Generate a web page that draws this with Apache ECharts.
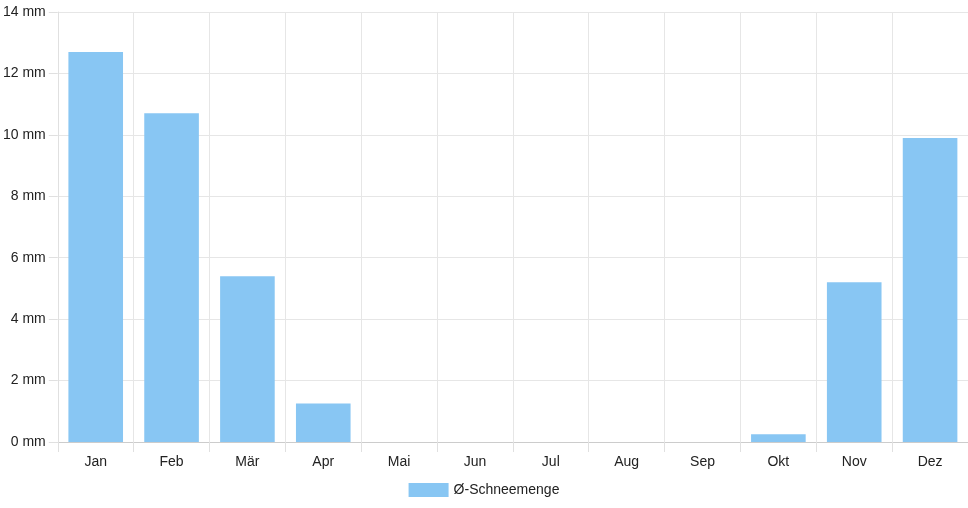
<!DOCTYPE html>
<html>
<head>
<meta charset="utf-8">
<script src="https://cdn.jsdelivr.net/npm/echarts@6/dist/echarts.min.js"></script>
<style>
  html, body { margin: 0; padding: 0; background: #fff; }
  #chart { width: 968px; height: 508px; }
</style>
</head>
<body>
<div id="chart"></div>
<script>
// monthly values
const months = ['Jan', 'Feb', 'Mär', 'Apr', 'Mai', 'Jun', 'Jul', 'Aug', 'Sep', 'Okt', 'Nov', 'Dez'];
const snow = [12.7, 10.7, 5.4, 1.25, 0, 0, 0, 0, 0, 0.25, 5.2, 9.9];
const seriesName = 'Ø-Schneemenge';

const chart = echarts.init(document.getElementById('chart'));
const font = 'Liberation Sans, Arial, sans-serif';

chart.setOption({
  animation: false,
  textStyle: { fontFamily: font },
  legend: {
    bottom: 6,
    left: 'center',
    itemWidth: 40,
    itemHeight: 14,
    itemGap: 10,
    icon: 'rect',
    textStyle: { fontSize: 14, color: '#222', fontFamily: font },
    data: [seriesName]
  },
  grid: { left: 56.5, right: 0, top: 12, bottom: 66, containLabel: false },
  xAxis: {
    type: 'category',
    data: months,
    axisLine: { show: true, lineStyle: { color: '#ccc' } },
    axisTick: { show: true, length: 10, lineStyle: { color: '#e0e0e0' } },
    splitLine: { show: true, lineStyle: { color: '#e6e6e6' } },
    axisLabel: { fontSize: 14, color: '#222', margin: 13, fontFamily: font }
  },
  yAxis: {
    type: 'value',
    min: 0,
    max: 14,
    interval: 2,
    axisLine: { show: true, lineStyle: { color: '#e0e0e0' } },
    axisTick: { show: true, length: 9, lineStyle: { color: '#e0e0e0' } },
    splitLine: { lineStyle: { color: '#e6e6e6' } },
    axisLabel: { fontSize: 14, color: '#222', margin: 12, formatter: '{value} mm', fontFamily: font }
  },
  series: [{
    name: seriesName,
    type: 'bar',
    data: snow,
    barWidth: '72%',
    itemStyle: { color: '#88c6f3', borderWidth: 0 }
  }]
});
</script>
</body>
</html>
